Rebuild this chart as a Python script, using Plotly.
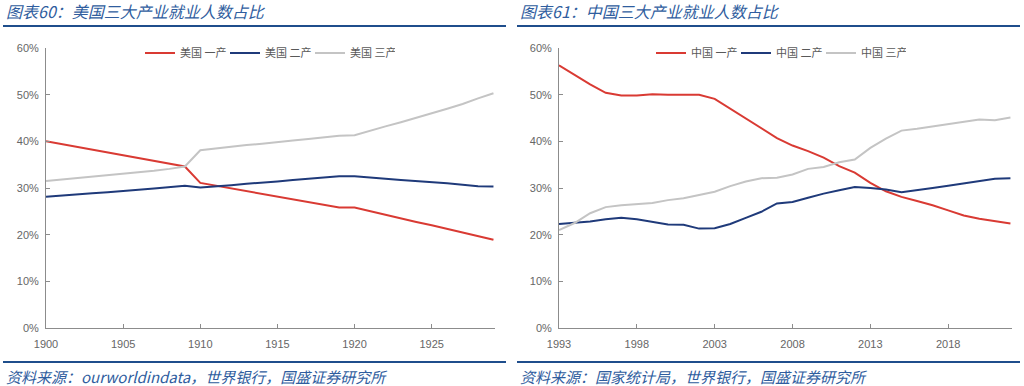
import plotly.graph_objects as go

# ---- data: US (1900-1929) ----
us_years = list(range(1900, 1930))
us_primary = [40.0, 39.4, 38.8, 38.2, 37.6, 37.0, 36.4, 35.8, 35.2, 34.6,
              31.1, 30.5, 29.9, 29.3, 28.7, 28.1, 27.5, 26.9, 26.3, 25.8,
              25.8, 25.0, 24.2, 23.5, 22.7, 22.0, 21.2, 20.5, 19.7, 18.9]
us_secondary = [28.1, 28.4, 28.6, 28.9, 29.1, 29.3, 29.6, 29.9, 30.2, 30.5,
                30.1, 30.3, 30.6, 30.9, 31.1, 31.4, 31.7, 32.0, 32.3, 32.5,
                32.5, 32.3, 32.0, 31.7, 31.5, 31.3, 31.0, 30.7, 30.4, 30.3]
us_tertiary = [31.5, 31.8, 32.2, 32.5, 32.8, 33.1, 33.4, 33.7, 34.1, 34.6,
               38.1, 38.5, 38.9, 39.2, 39.5, 39.9, 40.2, 40.5, 40.9, 41.2,
               41.3, 42.3, 43.2, 44.1, 45.0, 46.0, 47.0, 48.0, 49.2, 50.3]

# ---- data: China (1993-2022) ----
cn_years = list(range(1993, 2023))
cn_primary = [56.3, 54.3, 52.2, 50.4, 49.8, 49.8, 50.1, 50.0, 50.0, 50.0,
              49.1, 47.0, 45.0, 42.8, 40.7, 39.1, 37.9, 36.5, 34.7, 33.3,
              31.1, 29.3, 28.1, 27.2, 26.3, 25.2, 24.1, 23.4, 22.9, 22.4]
cn_secondary = [22.3, 22.5, 22.8, 23.3, 23.6, 23.3, 22.8, 22.2, 22.1, 21.3,
                21.4, 22.3, 23.6, 24.9, 26.7, 27.0, 27.9, 28.8, 29.5, 30.2,
                30.0, 29.7, 29.1, 29.5, 30.0, 30.5, 31.0, 31.5, 32.0, 32.1]
cn_tertiary = [21.0, 22.5, 24.6, 25.9, 26.3, 26.6, 26.8, 27.4, 27.8, 28.5,
               29.2, 30.4, 31.4, 32.1, 32.2, 32.9, 34.1, 34.5, 35.5, 36.1,
               38.6, 40.6, 42.3, 42.7, 43.2, 43.6, 44.2, 44.7, 44.5, 45.1]

us_names = ["美国 一产", "美国 二产", "美国 三产"]
cn_names = ["中国 一产", "中国 二产", "中国 三产"]
y_ticks = [0, 10, 20, 30, 40, 50, 60]
y_tick_labels = ["0%", "10%", "20%", "30%", "40%", "50%", "60%"]
us_x_ticks = [1900, 1905, 1910, 1915, 1920, 1925]
cn_x_ticks = [1993, 1998, 2003, 2008, 2013, 2018]

titles = ["图表60：美国三大产业就业人数占比", "图表61：中国三大产业就业人数占比"]
sources = ["资料来源：ourworldindata，世界银行，国盛证券研究所",
           "资料来源：国家统计局，世界银行，国盛证券研究所"]

colors = ["#D93A33", "#1F3A7A", "#C4C4C4"]
W, H = 1024, 386
FONT = "Liberation Sans, Noto Sans CJK SC, sans-serif"
CJK = "Noto Sans CJK SC, sans-serif"

fig = go.Figure()
for vals, name, c in zip([us_primary, us_secondary, us_tertiary], us_names, colors):
    fig.add_trace(go.Scatter(x=us_years, y=vals, name=name, mode="lines",
                             line=dict(color=c, width=2), xaxis="x", yaxis="y",
                             legend="legend"))
for vals, name, c in zip([cn_primary, cn_secondary, cn_tertiary], cn_names, colors):
    fig.add_trace(go.Scatter(x=cn_years, y=vals, name=name, mode="lines",
                             line=dict(color=c, width=2), xaxis="x2", yaxis="y2",
                             legend="legend2"))

ydom = [1 - 328 / H, 1 - 48 / H]
axis_common = dict(showgrid=False, zeroline=False, showline=True,
                   linecolor="#8C8C8C", linewidth=1, ticks="inside",
                   ticklen=4, tickcolor="#8C8C8C", automargin=False,
                   tickfont=dict(family=FONT, size=11, color="#666666"))

fig.update_layout(
    width=W, height=H,
    margin=dict(l=0, r=0, t=0, b=0, autoexpand=False),
    paper_bgcolor="white", plot_bgcolor="white",
    showlegend=True,
    xaxis=dict(domain=[46 / W, 495 / W], range=[1900, 1929.1],
               tickvals=us_x_ticks, anchor="y", ticklabelstandoff=6, **axis_common),
    yaxis=dict(domain=ydom, range=[0, 60], tickvals=y_ticks,
               ticktext=y_tick_labels, anchor="x", ticklabelstandoff=4, **axis_common),
    xaxis2=dict(domain=[559 / W, 1012 / W], range=[1993, 2022.1],
                tickvals=cn_x_ticks, anchor="y2", ticklabelstandoff=6, **axis_common),
    yaxis2=dict(domain=ydom, range=[0, 60], tickvals=y_ticks,
                ticktext=y_tick_labels, anchor="x2", ticklabelstandoff=4, **axis_common),
    legend=dict(orientation="h", x=140 / W, y=1 - 53 / H, xanchor="left",
                yanchor="middle", bgcolor="rgba(0,0,0,0)",
                entrywidth=40, entrywidthmode="pixels",
                font=dict(family=CJK, size=11, color="#595959")),
    legend2=dict(orientation="h", x=651 / W, y=1 - 53 / H, xanchor="left",
                 yanchor="middle", bgcolor="rgba(0,0,0,0)",
                 entrywidth=40, entrywidthmode="pixels",
                 font=dict(family=CJK, size=11, color="#595959")),
)

title_color = "#2F5D9E"
shapes = []
annotations = []
for i, (x0, x1) in enumerate([(3, 506), (517, 1020)]):
    shapes.append(dict(type="line", xref="paper", yref="paper",
                       x0=x0 / W, x1=x1 / W, y0=1 - 26 / H, y1=1 - 26 / H,
                       line=dict(color="#1F4E8C", width=2)))
    shapes.append(dict(type="line", xref="paper", yref="paper",
                       x0=x0 / W, x1=x1 / W, y0=1 - 362 / H, y1=1 - 362 / H,
                       line=dict(color="#1F4E8C", width=2)))
    annotations.append(dict(text="<i>" + titles[i] + "</i>", xref="paper", yref="paper",
                            x=(x0 + 1) / W, y=1 - 11 / H, xanchor="left", yanchor="middle",
                            showarrow=False,
                            font=dict(family=CJK, size=16, color=title_color)))
    annotations.append(dict(text="<i>" + sources[i] + "</i>", xref="paper", yref="paper",
                            x=(x0 + 1) / W, y=1 - 376 / H, xanchor="left", yanchor="middle",
                            showarrow=False,
                            font=dict(family=CJK, size=15, color=title_color)))
fig.update_layout(shapes=shapes, annotations=annotations)

fig.write_html("out.html", config={"displayModeBar": False},
               post_script="document.body.style.margin='0';document.body.style.overflow='hidden';")
